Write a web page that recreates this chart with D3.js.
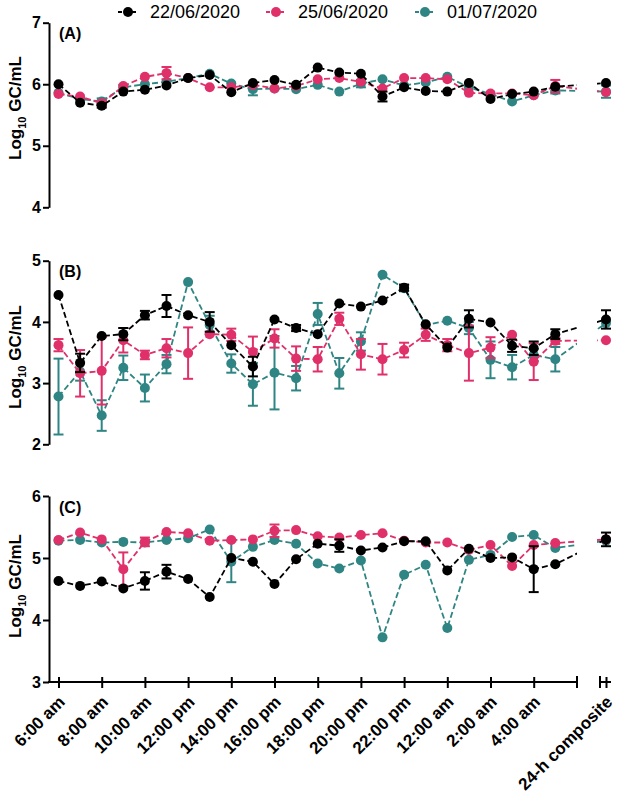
<!DOCTYPE html>
<html><head><meta charset="utf-8">
<script src="https://cdn.jsdelivr.net/npm/d3@7"></script>
<style>
body{margin:0;background:#fff;}
svg text{font-family:"Liberation Sans",Arial,sans-serif;}
</style></head>
<body><svg id="chart" width="618" height="795"></svg>
<script>
const sampleTimes = ["6:00 am","7:00 am","8:00 am","9:00 am","10:00 am","11:00 am","12:00 pm","13:00 pm","14:00 pm","15:00 pm","16:00 pm","17:00 pm","18:00 pm","19:00 pm","20:00 pm","21:00 pm","22:00 pm","23:00 pm","12:00 am","1:00 am","2:00 am","3:00 am","4:00 am","5:00 am"];
const tickLabels = ["6:00 am","8:00 am","10:00 am","12:00 pm","14:00 pm","16:00 pm","18:00 pm","20:00 pm","22:00 pm","12:00 am","2:00 am","4:00 am"];
const compositeLabel = "24-h composite";
const seriesNames = ["22/06/2020","25/06/2020","01/07/2020"];
const seriesColors = ["#000000","#e0306a","#2f8583"];

// Panel A
const aBlack = [6.00,5.70,5.65,5.88,5.91,5.98,6.10,6.15,5.87,6.02,6.07,5.99,6.27,6.19,6.17,5.80,5.95,5.89,5.88,6.02,5.76,5.84,5.88,5.96];
const aBlackErr = [0,0,0.03,0,0,0,0,0,0,0,0,0,0,0,0,0.08,0,0,0,0,0,0,0,0];
const aBlackComp = 6.02, aBlackCompErr = 0;
const aPink = [5.84,5.80,5.69,5.97,6.12,6.18,6.10,5.95,5.95,5.99,5.93,5.97,6.08,6.10,6.04,5.93,6.10,6.10,6.08,5.86,5.85,5.85,5.82,5.97];
const aPinkErr = [0,0,0.04,0,0,0.1,0,0,0,0,0,0,0,0,0,0,0,0,0,0,0,0,0,0.1];
const aPinkComp = 5.87, aPinkCompErr = 0;
const aTeal = [5.86,5.76,5.72,5.95,6.00,6.04,6.10,6.17,6.01,5.92,5.93,5.92,5.99,5.88,6.01,6.08,5.98,6.03,6.12,5.95,5.84,5.72,5.82,5.90];
const aTealErr = [0,0,0.05,0.04,0,0,0,0,0,0.1,0,0,0,0,0.06,0,0,0,0,0,0,0,0,0.05];
const aTealComp = 5.88, aTealCompErr = 0.1;

// Panel B
const bBlack = [4.44,3.33,3.77,3.80,4.11,4.26,4.11,4.00,3.62,3.27,4.04,3.90,3.80,4.30,4.25,4.35,4.56,3.96,3.58,4.05,3.99,3.61,3.57,3.80];
const bBlackErr = [0,0.15,0,0.1,0.07,0.18,0,0.16,0,0.16,0,0.05,0,0,0,0,0.05,0,0,0.14,0,0.1,0.11,0.08];
const bBlackComp = 4.04, bBlackCompErr = 0.15;
const bPink = [3.62,3.16,3.20,3.70,3.46,3.57,3.49,3.80,3.79,3.51,3.73,3.40,3.39,4.05,3.47,3.39,3.54,3.79,3.62,3.49,3.58,3.79,3.35,3.69];
const bPinkErr = [0.1,0.38,0.55,0.2,0.07,0.15,0.42,0,0.1,0.25,0.15,0.2,0.2,0.1,0.25,0.25,0.12,0.1,0.1,0.45,0.17,0,0.3,0.05];
const bPinkComp = 3.70, bPinkCompErr = 0;
const bTeal = [2.78,3.19,2.47,3.25,2.92,3.31,4.65,3.95,3.32,2.98,3.17,3.08,4.13,3.16,3.68,4.77,4.55,3.95,4.02,3.90,3.38,3.26,3.46,3.39];
const bTealErr = [0.62,0.15,0.25,0.2,0.22,0.15,0,0.15,0.15,0.35,0.6,0.2,0.18,0.25,0.15,0,0.05,0,0,0.1,0.3,0.2,0.1,0.2];
const bTealComp = 3.98, bTealCompErr = 0;

// Panel C
const cBlack = [4.63,4.55,4.62,4.51,4.63,4.78,4.66,4.37,5.00,4.94,4.58,4.98,5.23,5.20,5.12,5.17,5.27,5.27,4.80,5.15,5.00,5.01,4.82,4.90];
const cBlackErr = [0,0,0,0,0.14,0.11,0,0,0,0,0,0,0,0.1,0,0,0,0,0,0,0,0,0.37,0];
const cBlackComp = 5.30, cBlackCompErr = 0.11;
const cPink = [5.29,5.41,5.30,4.82,5.26,5.42,5.40,5.28,5.29,5.30,5.44,5.45,5.35,5.33,5.37,5.40,5.28,5.25,5.25,5.13,5.21,4.87,5.21,5.24];
const cPinkErr = [0,0,0,0.27,0.07,0,0,0,0,0,0.1,0,0,0,0,0,0,0,0,0,0,0,0,0];
const cPinkComp = 5.30, cPinkCompErr = 0;
const cTeal = [5.28,5.29,5.25,5.26,5.25,5.29,5.32,5.46,4.94,5.18,5.29,5.23,4.91,4.83,4.96,3.72,4.73,4.89,3.87,4.97,5.05,5.34,5.37,5.16];
const cTealErr = [0,0,0,0,0,0,0,0,0.33,0,0,0,0,0,0,0,0,0,0,0,0,0,0,0];
const cTealComp = 5.28, cTealCompErr = 0;

const panels = [
  {label:"(A)", domain:[4,7], range:[207.3,22.7], ticks:[4,5,6,7], titleY:108, labelY:39,
   series:[[aTeal,aTealErr,aTealComp,aTealCompErr,2],[aPink,aPinkErr,aPinkComp,aPinkCompErr,1],[aBlack,aBlackErr,aBlackComp,aBlackCompErr,0]]},
  {label:"(B)", domain:[2,5], range:[444.3,260.7], ticks:[2,3,4,5], titleY:357, labelY:277,
   series:[[bTeal,bTealErr,bTealComp,bTealCompErr,2],[bPink,bPinkErr,bPinkComp,bPinkCompErr,1],[bBlack,bBlackErr,bBlackComp,bBlackCompErr,0]]},
  {label:"(C)", domain:[3,6], range:[682,496], ticks:[3,4,5,6], titleY:586, labelY:513, xaxis:true,
   series:[[cTeal,cTealErr,cTealComp,cTealCompErr,2],[cPink,cPinkErr,cPinkComp,cPinkCompErr,1],[cBlack,cBlackErr,cBlackComp,cBlackCompErr,0]]}
];

const svg = d3.select("#chart");
const x = d3.scalePoint().domain(sampleTimes).range([58.5,555.3]);
const xComp = d3.scalePoint().domain([compositeLabel]).range([606,606]);
const axisLeftX = 49, axisEndX = 577, compStart = 600, compEnd = 611;
const R = 5, CAP = 5;

const defs = svg.append("defs");
const cp = defs.append("clipPath").attr("id","gapclip");
cp.append("rect").attr("x",0).attr("y",0).attr("width",axisEndX).attr("height",795);
cp.append("rect").attr("x",compStart-3).attr("y",0).attr("width",618-compStart+3).attr("height",795);

panels.forEach(p => {
  const y = d3.scaleLinear().domain(p.domain).range(p.range);
  const g = svg.append("g");
  const ya = g.append("g").attr("transform",`translate(${axisLeftX},0)`)
    .call(d3.axisLeft(y).tickValues(p.ticks).tickSize(6).tickSizeOuter(0).tickFormat(d3.format("d")).tickPadding(2));
  ya.select(".domain").attr("stroke","#000").attr("stroke-width",2);
  ya.selectAll(".tick line").attr("stroke","#000").attr("stroke-width",2);
  ya.selectAll(".tick text").attr("font-size",16).attr("font-weight","bold").attr("fill","#000");
  const t = g.append("text").attr("transform",`translate(21,${p.titleY}) rotate(-90)`)
    .attr("text-anchor","middle").attr("font-size",17).attr("font-weight","bold");
  t.append("tspan").text("Log");
  t.append("tspan").attr("font-size",11).attr("dy",5).text("10");
  t.append("tspan").attr("dy",-5).text(" GC/mL");
  g.append("text").attr("x",59).attr("y",p.labelY).attr("font-size",16).attr("font-weight","bold").text(p.label);

  if (p.xaxis) {
    const ay = p.range[0];
    const styleTicks = sel => {
      sel.select(".domain").remove();
      sel.selectAll(".tick line").attr("y1",-5).attr("y2",6).attr("stroke","#000").attr("stroke-width",2);
      sel.selectAll(".tick text").attr("font-size",17).attr("font-weight","bold").attr("fill","#000")
        .attr("text-anchor","end").attr("dy",0).attr("y",0)
        .attr("transform","translate(7,21) rotate(-45)");
    };
    g.append("g").attr("transform",`translate(0,${ay})`)
      .call(d3.axisBottom(x).tickValues(tickLabels).tickSize(6).tickSizeOuter(0)).call(styleTicks);
    g.append("line").attr("x1",axisLeftX-1).attr("x2",axisEndX).attr("y1",ay).attr("y2",ay).attr("stroke","#000").attr("stroke-width",2);
    g.append("line").attr("x1",axisEndX).attr("x2",axisEndX).attr("y1",ay-6).attr("y2",ay+6).attr("stroke","#000").attr("stroke-width",2);
    g.append("g").attr("transform",`translate(0,${ay})`)
      .call(d3.axisBottom(xComp).tickSize(6).tickSizeOuter(0)).call(styleTicks);
    g.append("line").attr("x1",compStart).attr("x2",compEnd).attr("y1",ay).attr("y2",ay).attr("stroke","#000").attr("stroke-width",2);
    g.append("line").attr("x1",compStart).attr("x2",compStart).attr("y1",ay-6).attr("y2",ay+6).attr("stroke","#000").attr("stroke-width",2);
  }

  p.series.forEach(([vals, errs, comp, compErr, ci]) => {
    const col = seriesColors[ci];
    const pts = vals.map((v,i)=>({x:x(sampleTimes[i]), v, e:errs[i]}));
    const cpt = {x:xComp(compositeLabel), v:comp, e:compErr};
    const all = pts.concat([cpt]);
    const line = d3.line().x(d=>d.x).y(d=>y(d.v));
    g.append("path").datum(all).attr("d",line).attr("fill","none")
      .attr("stroke",col).attr("stroke-width",1.8).attr("stroke-dasharray","6,3")
      .attr("clip-path","url(#gapclip)");
    const eb = g.append("g").attr("stroke",col).attr("stroke-width",2);
    all.filter(d=>d.e>0).forEach(d=>{
      eb.append("line").attr("x1",d.x).attr("x2",d.x).attr("y1",y(d.v+d.e)).attr("y2",y(d.v-d.e));
      eb.append("line").attr("x1",d.x-CAP).attr("x2",d.x+CAP).attr("y1",y(d.v+d.e)).attr("y2",y(d.v+d.e));
      eb.append("line").attr("x1",d.x-CAP).attr("x2",d.x+CAP).attr("y1",y(d.v-d.e)).attr("y2",y(d.v-d.e));
    });
    g.append("g").selectAll("circle").data(all).join("circle")
      .attr("cx",d=>d.x).attr("cy",d=>y(d.v)).attr("r",R).attr("fill",col);
  });
});

const legX = [128,276,425];
seriesNames.forEach((n,i)=>{
  const lg = svg.append("g");
  lg.append("line").attr("x1",legX[i]-10).attr("x2",legX[i]+10).attr("y1",12).attr("y2",12)
    .attr("stroke",seriesColors[i]).attr("stroke-width",1.8).attr("stroke-dasharray","4,3");
  lg.append("circle").attr("cx",legX[i]).attr("cy",12).attr("r",R).attr("fill",seriesColors[i]);
  lg.append("text").attr("x",legX[i]+22).attr("y",18).attr("font-size",18).attr("fill","#000").text(n);
});
</script></body></html>
